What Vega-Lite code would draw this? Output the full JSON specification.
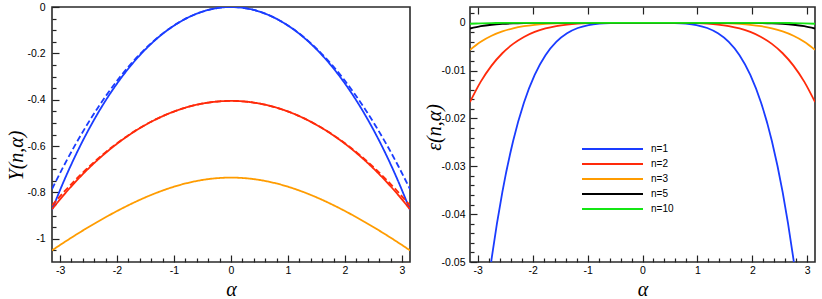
{
"$schema": "https://vega.github.io/schema/vega-lite/v6.json",
"padding": {"left": 5, "top": 1, "right": 7, "bottom": 0},
"datasets": {
"left": [
{"a":-3.1416,"v":-0.87553,"n":"n=1","s":"solid"},{"a":-2.9452,"v":-0.7577,"n":"n=1","s":"solid"},{"a":-2.7489,"v":-0.65074,"n":"n=1","s":"solid"},{"a":-2.5525,"v":-0.55389,"n":"n=1","s":"solid"},{"a":-2.3562,"v":-0.46649,"n":"n=1","s":"solid"},{"a":-2.1598,"v":-0.38791,"n":"n=1","s":"solid"},{"a":-1.9635,"v":-0.31767,"n":"n=1","s":"solid"},{"a":-1.7671,"v":-0.25527,"n":"n=1","s":"solid"},{"a":-1.5708,"v":-0.20033,"n":"n=1","s":"solid"},{"a":-1.3744,"v":-0.15251,"n":"n=1","s":"solid"},{"a":-1.1781,"v":-0.11154,"n":"n=1","s":"solid"},{"a":-0.9817,"v":-0.07718,"n":"n=1","s":"solid"},{"a":-0.7854,"v":-0.04927,"n":"n=1","s":"solid"},{"a":-0.589,"v":-0.02766,"n":"n=1","s":"solid"},{"a":-0.3927,"v":-0.01228,"n":"n=1","s":"solid"},{"a":-0.1963,"v":-0.00307,"n":"n=1","s":"solid"},{"a":0,"v":0,"n":"n=1","s":"solid"},{"a":0.1963,"v":-0.00307,"n":"n=1","s":"solid"},{"a":0.3927,"v":-0.01228,"n":"n=1","s":"solid"},{"a":0.589,"v":-0.02766,"n":"n=1","s":"solid"},{"a":0.7854,"v":-0.04927,"n":"n=1","s":"solid"},{"a":0.9817,"v":-0.07718,"n":"n=1","s":"solid"},{"a":1.1781,"v":-0.11154,"n":"n=1","s":"solid"},{"a":1.3744,"v":-0.15251,"n":"n=1","s":"solid"},{"a":1.5708,"v":-0.20033,"n":"n=1","s":"solid"},{"a":1.7671,"v":-0.25527,"n":"n=1","s":"solid"},{"a":1.9635,"v":-0.31767,"n":"n=1","s":"solid"},{"a":2.1598,"v":-0.38791,"n":"n=1","s":"solid"},{"a":2.3562,"v":-0.46649,"n":"n=1","s":"solid"},{"a":2.5525,"v":-0.55389,"n":"n=1","s":"solid"},{"a":2.7489,"v":-0.65074,"n":"n=1","s":"solid"},{"a":2.9452,"v":-0.7577,"n":"n=1","s":"solid"},{"a":3.1416,"v":-0.87553,"n":"n=1","s":"solid"},
{"a":-3.1416,"v":-0.7854,"n":"n=1","s":"dashed"},{"a":-2.9452,"v":-0.69029,"n":"n=1","s":"dashed"},{"a":-2.7489,"v":-0.60132,"n":"n=1","s":"dashed"},{"a":-2.5525,"v":-0.51849,"n":"n=1","s":"dashed"},{"a":-2.3562,"v":-0.44179,"n":"n=1","s":"dashed"},{"a":-2.1598,"v":-0.37122,"n":"n=1","s":"dashed"},{"a":-1.9635,"v":-0.3068,"n":"n=1","s":"dashed"},{"a":-1.7671,"v":-0.2485,"n":"n=1","s":"dashed"},{"a":-1.5708,"v":-0.19635,"n":"n=1","s":"dashed"},{"a":-1.3744,"v":-0.15033,"n":"n=1","s":"dashed"},{"a":-1.1781,"v":-0.11045,"n":"n=1","s":"dashed"},{"a":-0.9817,"v":-0.0767,"n":"n=1","s":"dashed"},{"a":-0.7854,"v":-0.04909,"n":"n=1","s":"dashed"},{"a":-0.589,"v":-0.02761,"n":"n=1","s":"dashed"},{"a":-0.3927,"v":-0.01227,"n":"n=1","s":"dashed"},{"a":-0.1963,"v":-0.00307,"n":"n=1","s":"dashed"},{"a":0,"v":0,"n":"n=1","s":"dashed"},{"a":0.1963,"v":-0.00307,"n":"n=1","s":"dashed"},{"a":0.3927,"v":-0.01227,"n":"n=1","s":"dashed"},{"a":0.589,"v":-0.02761,"n":"n=1","s":"dashed"},{"a":0.7854,"v":-0.04909,"n":"n=1","s":"dashed"},{"a":0.9817,"v":-0.0767,"n":"n=1","s":"dashed"},{"a":1.1781,"v":-0.11045,"n":"n=1","s":"dashed"},{"a":1.3744,"v":-0.15033,"n":"n=1","s":"dashed"},{"a":1.5708,"v":-0.19635,"n":"n=1","s":"dashed"},{"a":1.7671,"v":-0.2485,"n":"n=1","s":"dashed"},{"a":1.9635,"v":-0.3068,"n":"n=1","s":"dashed"},{"a":2.1598,"v":-0.37122,"n":"n=1","s":"dashed"},{"a":2.3562,"v":-0.44179,"n":"n=1","s":"dashed"},{"a":2.5525,"v":-0.51849,"n":"n=1","s":"dashed"},{"a":2.7489,"v":-0.60132,"n":"n=1","s":"dashed"},{"a":2.9452,"v":-0.69029,"n":"n=1","s":"dashed"},{"a":3.1416,"v":-0.7854,"n":"n=1","s":"dashed"},
{"a":-3.1416,"v":-0.87259,"n":"n=2","s":"solid"},{"a":-2.9452,"v":-0.81372,"n":"n=2","s":"solid"},{"a":-2.7489,"v":-0.75929,"n":"n=2","s":"solid"},{"a":-2.5525,"v":-0.70913,"n":"n=2","s":"solid"},{"a":-2.3562,"v":-0.66312,"n":"n=2","s":"solid"},{"a":-2.1598,"v":-0.62114,"n":"n=2","s":"solid"},{"a":-1.9635,"v":-0.5831,"n":"n=2","s":"solid"},{"a":-1.7671,"v":-0.54888,"n":"n=2","s":"solid"},{"a":-1.5708,"v":-0.51844,"n":"n=2","s":"solid"},{"a":-1.3744,"v":-0.4917,"n":"n=2","s":"solid"},{"a":-1.1781,"v":-0.46861,"n":"n=2","s":"solid"},{"a":-0.9817,"v":-0.44913,"n":"n=2","s":"solid"},{"a":-0.7854,"v":-0.43322,"n":"n=2","s":"solid"},{"a":-0.589,"v":-0.42087,"n":"n=2","s":"solid"},{"a":-0.3927,"v":-0.41205,"n":"n=2","s":"solid"},{"a":-0.1963,"v":-0.40676,"n":"n=2","s":"solid"},{"a":0,"v":-0.405,"n":"n=2","s":"solid"},{"a":0.1963,"v":-0.40676,"n":"n=2","s":"solid"},{"a":0.3927,"v":-0.41205,"n":"n=2","s":"solid"},{"a":0.589,"v":-0.42087,"n":"n=2","s":"solid"},{"a":0.7854,"v":-0.43322,"n":"n=2","s":"solid"},{"a":0.9817,"v":-0.44913,"n":"n=2","s":"solid"},{"a":1.1781,"v":-0.46861,"n":"n=2","s":"solid"},{"a":1.3744,"v":-0.4917,"n":"n=2","s":"solid"},{"a":1.5708,"v":-0.51844,"n":"n=2","s":"solid"},{"a":1.7671,"v":-0.54888,"n":"n=2","s":"solid"},{"a":1.9635,"v":-0.5831,"n":"n=2","s":"solid"},{"a":2.1598,"v":-0.62114,"n":"n=2","s":"solid"},{"a":2.3562,"v":-0.66312,"n":"n=2","s":"solid"},{"a":2.5525,"v":-0.70913,"n":"n=2","s":"solid"},{"a":2.7489,"v":-0.75929,"n":"n=2","s":"solid"},{"a":2.9452,"v":-0.81372,"n":"n=2","s":"solid"},{"a":3.1416,"v":-0.87259,"n":"n=2","s":"solid"},
{"a":-3.1416,"v":-0.85604,"n":"n=2","s":"dashed"},{"a":-2.9452,"v":-0.80142,"n":"n=2","s":"dashed"},{"a":-2.7489,"v":-0.75033,"n":"n=2","s":"dashed"},{"a":-2.5525,"v":-0.70276,"n":"n=2","s":"dashed"},{"a":-2.3562,"v":-0.65871,"n":"n=2","s":"dashed"},{"a":-2.1598,"v":-0.61819,"n":"n=2","s":"dashed"},{"a":-1.9635,"v":-0.58119,"n":"n=2","s":"dashed"},{"a":-1.7671,"v":-0.54771,"n":"n=2","s":"dashed"},{"a":-1.5708,"v":-0.51776,"n":"n=2","s":"dashed"},{"a":-1.3744,"v":-0.49133,"n":"n=2","s":"dashed"},{"a":-1.1781,"v":-0.46843,"n":"n=2","s":"dashed"},{"a":-0.9817,"v":-0.44905,"n":"n=2","s":"dashed"},{"a":-0.7854,"v":-0.43319,"n":"n=2","s":"dashed"},{"a":-0.589,"v":-0.42086,"n":"n=2","s":"dashed"},{"a":-0.3927,"v":-0.41205,"n":"n=2","s":"dashed"},{"a":-0.1963,"v":-0.40676,"n":"n=2","s":"dashed"},{"a":0,"v":-0.405,"n":"n=2","s":"dashed"},{"a":0.1963,"v":-0.40676,"n":"n=2","s":"dashed"},{"a":0.3927,"v":-0.41205,"n":"n=2","s":"dashed"},{"a":0.589,"v":-0.42086,"n":"n=2","s":"dashed"},{"a":0.7854,"v":-0.43319,"n":"n=2","s":"dashed"},{"a":0.9817,"v":-0.44905,"n":"n=2","s":"dashed"},{"a":1.1781,"v":-0.46843,"n":"n=2","s":"dashed"},{"a":1.3744,"v":-0.49133,"n":"n=2","s":"dashed"},{"a":1.5708,"v":-0.51776,"n":"n=2","s":"dashed"},{"a":1.7671,"v":-0.54771,"n":"n=2","s":"dashed"},{"a":1.9635,"v":-0.58119,"n":"n=2","s":"dashed"},{"a":2.1598,"v":-0.61819,"n":"n=2","s":"dashed"},{"a":2.3562,"v":-0.65871,"n":"n=2","s":"dashed"},{"a":2.5525,"v":-0.70276,"n":"n=2","s":"dashed"},{"a":2.7489,"v":-0.75033,"n":"n=2","s":"dashed"},{"a":2.9452,"v":-0.80142,"n":"n=2","s":"dashed"},{"a":3.1416,"v":-0.85604,"n":"n=2","s":"dashed"},
{"a":-3.1416,"v":-1.05,"n":"n=3","s":"solid"},{"a":-2.9452,"v":-1.01786,"n":"n=3","s":"solid"},{"a":-2.7489,"v":-0.98691,"n":"n=3","s":"solid"},{"a":-2.5525,"v":-0.95713,"n":"n=3","s":"solid"},{"a":-2.3562,"v":-0.92856,"n":"n=3","s":"solid"},{"a":-2.1598,"v":-0.90129,"n":"n=3","s":"solid"},{"a":-1.9635,"v":-0.87543,"n":"n=3","s":"solid"},{"a":-1.7671,"v":-0.85115,"n":"n=3","s":"solid"},{"a":-1.5708,"v":-0.82863,"n":"n=3","s":"solid"},{"a":-1.3744,"v":-0.8081,"n":"n=3","s":"solid"},{"a":-1.1781,"v":-0.78976,"n":"n=3","s":"solid"},{"a":-0.9817,"v":-0.77381,"n":"n=3","s":"solid"},{"a":-0.7854,"v":-0.76045,"n":"n=3","s":"solid"},{"a":-0.589,"v":-0.74987,"n":"n=3","s":"solid"},{"a":-0.3927,"v":-0.7422,"n":"n=3","s":"solid"},{"a":-0.1963,"v":-0.73756,"n":"n=3","s":"solid"},{"a":0,"v":-0.736,"n":"n=3","s":"solid"},{"a":0.1963,"v":-0.73756,"n":"n=3","s":"solid"},{"a":0.3927,"v":-0.7422,"n":"n=3","s":"solid"},{"a":0.589,"v":-0.74987,"n":"n=3","s":"solid"},{"a":0.7854,"v":-0.76045,"n":"n=3","s":"solid"},{"a":0.9817,"v":-0.77381,"n":"n=3","s":"solid"},{"a":1.1781,"v":-0.78976,"n":"n=3","s":"solid"},{"a":1.3744,"v":-0.8081,"n":"n=3","s":"solid"},{"a":1.5708,"v":-0.82863,"n":"n=3","s":"solid"},{"a":1.7671,"v":-0.85115,"n":"n=3","s":"solid"},{"a":1.9635,"v":-0.87543,"n":"n=3","s":"solid"},{"a":2.1598,"v":-0.90129,"n":"n=3","s":"solid"},{"a":2.3562,"v":-0.92856,"n":"n=3","s":"solid"},{"a":2.5525,"v":-0.95713,"n":"n=3","s":"solid"},{"a":2.7489,"v":-0.98691,"n":"n=3","s":"solid"},{"a":2.9452,"v":-1.01786,"n":"n=3","s":"solid"},{"a":3.1416,"v":-1.05,"n":"n=3","s":"solid"}
],
"right": [
{"a":-3.1416,"v":-0.090125,"n":"n=1"},{"a":-2.9452,"v":-0.067409,"n":"n=1"},{"a":-2.7489,"v":-0.049418,"n":"n=1"},{"a":-2.5525,"v":-0.035404,"n":"n=1"},{"a":-2.3562,"v":-0.024696,"n":"n=1"},{"a":-2.1598,"v":-0.016694,"n":"n=1"},{"a":-1.9635,"v":-0.010872,"n":"n=1"},{"a":-1.7671,"v":-0.006767,"n":"n=1"},{"a":-1.5708,"v":-0.003983,"n":"n=1"},{"a":-1.3744,"v":-0.002184,"n":"n=1"},{"a":-1.1781,"v":-0.001091,"n":"n=1"},{"a":-0.9817,"v":-0.00048,"n":"n=1"},{"a":-0.7854,"v":-0.000176,"n":"n=1"},{"a":-0.589,"v":-0.000048,"n":"n=1"},{"a":-0.3927,"v":-0.000008,"n":"n=1"},{"a":-0.1963,"v":0,"n":"n=1"},{"a":0,"v":0,"n":"n=1"},{"a":0.1963,"v":0,"n":"n=1"},{"a":0.3927,"v":-0.000008,"n":"n=1"},{"a":0.589,"v":-0.000048,"n":"n=1"},{"a":0.7854,"v":-0.000176,"n":"n=1"},{"a":0.9817,"v":-0.00048,"n":"n=1"},{"a":1.1781,"v":-0.001091,"n":"n=1"},{"a":1.3744,"v":-0.002184,"n":"n=1"},{"a":1.5708,"v":-0.003983,"n":"n=1"},{"a":1.7671,"v":-0.006767,"n":"n=1"},{"a":1.9635,"v":-0.010872,"n":"n=1"},{"a":2.1598,"v":-0.016694,"n":"n=1"},{"a":2.3562,"v":-0.024696,"n":"n=1"},{"a":2.5525,"v":-0.035404,"n":"n=1"},{"a":2.7489,"v":-0.049418,"n":"n=1"},{"a":2.9452,"v":-0.067409,"n":"n=1"},{"a":3.1416,"v":-0.090125,"n":"n=1"},
{"a":-3.1416,"v":-0.016553,"n":"n=2"},{"a":-2.9452,"v":-0.012301,"n":"n=2"},{"a":-2.7489,"v":-0.008955,"n":"n=2"},{"a":-2.5525,"v":-0.006368,"n":"n=2"},{"a":-2.3562,"v":-0.004407,"n":"n=2"},{"a":-2.1598,"v":-0.002953,"n":"n=2"},{"a":-1.9635,"v":-0.001905,"n":"n=2"},{"a":-1.7671,"v":-0.001173,"n":"n=2"},{"a":-1.5708,"v":-0.000683,"n":"n=2"},{"a":-1.3744,"v":-0.000369,"n":"n=2"},{"a":-1.1781,"v":-0.000182,"n":"n=2"},{"a":-0.9817,"v":-0.000079,"n":"n=2"},{"a":-0.7854,"v":-0.000028,"n":"n=2"},{"a":-0.589,"v":-0.000007,"n":"n=2"},{"a":-0.3927,"v":-0.000001,"n":"n=2"},{"a":-0.1963,"v":0,"n":"n=2"},{"a":0,"v":0,"n":"n=2"},{"a":0.1963,"v":0,"n":"n=2"},{"a":0.3927,"v":-0.000001,"n":"n=2"},{"a":0.589,"v":-0.000007,"n":"n=2"},{"a":0.7854,"v":-0.000028,"n":"n=2"},{"a":0.9817,"v":-0.000079,"n":"n=2"},{"a":1.1781,"v":-0.000182,"n":"n=2"},{"a":1.3744,"v":-0.000369,"n":"n=2"},{"a":1.5708,"v":-0.000683,"n":"n=2"},{"a":1.7671,"v":-0.001173,"n":"n=2"},{"a":1.9635,"v":-0.001905,"n":"n=2"},{"a":2.1598,"v":-0.002953,"n":"n=2"},{"a":2.3562,"v":-0.004407,"n":"n=2"},{"a":2.5525,"v":-0.006368,"n":"n=2"},{"a":2.7489,"v":-0.008955,"n":"n=2"},{"a":2.9452,"v":-0.012301,"n":"n=2"},{"a":3.1416,"v":-0.016553,"n":"n=2"},
{"a":-3.1416,"v":-0.005641,"n":"n=3"},{"a":-2.9452,"v":-0.003956,"n":"n=3"},{"a":-2.7489,"v":-0.002707,"n":"n=3"},{"a":-2.5525,"v":-0.0018,"n":"n=3"},{"a":-2.3562,"v":-0.001159,"n":"n=3"},{"a":-2.1598,"v":-0.000718,"n":"n=3"},{"a":-1.9635,"v":-0.000425,"n":"n=3"},{"a":-1.7671,"v":-0.000238,"n":"n=3"},{"a":-1.5708,"v":-0.000125,"n":"n=3"},{"a":-1.3744,"v":-0.00006,"n":"n=3"},{"a":-1.1781,"v":-0.000026,"n":"n=3"},{"a":-0.9817,"v":-0.000009,"n":"n=3"},{"a":-0.7854,"v":-0.000003,"n":"n=3"},{"a":-0.589,"v":-0.000001,"n":"n=3"},{"a":-0.3927,"v":0,"n":"n=3"},{"a":-0.1963,"v":0,"n":"n=3"},{"a":0,"v":0,"n":"n=3"},{"a":0.1963,"v":0,"n":"n=3"},{"a":0.3927,"v":0,"n":"n=3"},{"a":0.589,"v":-0.000001,"n":"n=3"},{"a":0.7854,"v":-0.000003,"n":"n=3"},{"a":0.9817,"v":-0.000009,"n":"n=3"},{"a":1.1781,"v":-0.000026,"n":"n=3"},{"a":1.3744,"v":-0.00006,"n":"n=3"},{"a":1.5708,"v":-0.000125,"n":"n=3"},{"a":1.7671,"v":-0.000238,"n":"n=3"},{"a":1.9635,"v":-0.000425,"n":"n=3"},{"a":2.1598,"v":-0.000718,"n":"n=3"},{"a":2.3562,"v":-0.001159,"n":"n=3"},{"a":2.5525,"v":-0.0018,"n":"n=3"},{"a":2.7489,"v":-0.002707,"n":"n=3"},{"a":2.9452,"v":-0.003956,"n":"n=3"},{"a":3.1416,"v":-0.005641,"n":"n=3"},
{"a":-3.1416,"v":-0.0012,"n":"n=5"},{"a":-2.9452,"v":-0.000716,"n":"n=5"},{"a":-2.7489,"v":-0.000412,"n":"n=5"},{"a":-2.5525,"v":-0.000228,"n":"n=5"},{"a":-2.3562,"v":-0.00012,"n":"n=5"},{"a":-2.1598,"v":-0.00006,"n":"n=5"},{"a":-1.9635,"v":-0.000028,"n":"n=5"},{"a":-1.7671,"v":-0.000012,"n":"n=5"},{"a":-1.5708,"v":-0.000005,"n":"n=5"},{"a":-1.3744,"v":-0.000002,"n":"n=5"},{"a":-1.1781,"v":0,"n":"n=5"},{"a":-0.9817,"v":0,"n":"n=5"},{"a":-0.7854,"v":0,"n":"n=5"},{"a":-0.589,"v":0,"n":"n=5"},{"a":-0.3927,"v":0,"n":"n=5"},{"a":-0.1963,"v":0,"n":"n=5"},{"a":0,"v":0,"n":"n=5"},{"a":0.1963,"v":0,"n":"n=5"},{"a":0.3927,"v":0,"n":"n=5"},{"a":0.589,"v":0,"n":"n=5"},{"a":0.7854,"v":0,"n":"n=5"},{"a":0.9817,"v":0,"n":"n=5"},{"a":1.1781,"v":0,"n":"n=5"},{"a":1.3744,"v":-0.000002,"n":"n=5"},{"a":1.5708,"v":-0.000005,"n":"n=5"},{"a":1.7671,"v":-0.000012,"n":"n=5"},{"a":1.9635,"v":-0.000028,"n":"n=5"},{"a":2.1598,"v":-0.00006,"n":"n=5"},{"a":2.3562,"v":-0.00012,"n":"n=5"},{"a":2.5525,"v":-0.000228,"n":"n=5"},{"a":2.7489,"v":-0.000412,"n":"n=5"},{"a":2.9452,"v":-0.000716,"n":"n=5"},{"a":3.1416,"v":-0.0012,"n":"n=5"},
{"a":-3.1416,"v":-0.0002,"n":"n=10"},{"a":-2.9452,"v":-0.000105,"n":"n=10"},{"a":-2.7489,"v":-0.000053,"n":"n=10"},{"a":-2.5525,"v":-0.000025,"n":"n=10"},{"a":-2.3562,"v":-0.000011,"n":"n=10"},{"a":-2.1598,"v":-0.000005,"n":"n=10"},{"a":-1.9635,"v":-0.000002,"n":"n=10"},{"a":-1.7671,"v":-0.000001,"n":"n=10"},{"a":-1.5708,"v":0,"n":"n=10"},{"a":-1.3744,"v":0,"n":"n=10"},{"a":-1.1781,"v":0,"n":"n=10"},{"a":-0.9817,"v":0,"n":"n=10"},{"a":-0.7854,"v":0,"n":"n=10"},{"a":-0.589,"v":0,"n":"n=10"},{"a":-0.3927,"v":0,"n":"n=10"},{"a":-0.1963,"v":0,"n":"n=10"},{"a":0,"v":0,"n":"n=10"},{"a":0.1963,"v":0,"n":"n=10"},{"a":0.3927,"v":0,"n":"n=10"},{"a":0.589,"v":0,"n":"n=10"},{"a":0.7854,"v":0,"n":"n=10"},{"a":0.9817,"v":0,"n":"n=10"},{"a":1.1781,"v":0,"n":"n=10"},{"a":1.3744,"v":0,"n":"n=10"},{"a":1.5708,"v":0,"n":"n=10"},{"a":1.7671,"v":-0.000001,"n":"n=10"},{"a":1.9635,"v":-0.000002,"n":"n=10"},{"a":2.1598,"v":-0.000005,"n":"n=10"},{"a":2.3562,"v":-0.000011,"n":"n=10"},{"a":2.5525,"v":-0.000025,"n":"n=10"},{"a":2.7489,"v":-0.000053,"n":"n=10"},{"a":2.9452,"v":-0.000105,"n":"n=10"},{"a":3.1416,"v":-0.0002,"n":"n=10"}
]
},
"bounds": "flush",
"spacing": 60,
"hconcat": [
{
"width": 358, "height": 255,
"data": {"name": "left"},
"layer": [
{"mark": {"type": "line", "interpolate": "monotone", "clip": true, "strokeWidth": 1.8},
 "encoding": {
  "x": {"field": "a", "type": "quantitative", "scale": {"domain": [-3.1416, 3.1416], "nice": false, "zero": false},
        "axis": {"orient": "bottom", "values": [-3,-2,-1,0,1,2,3], "tickSize": -7, "labelPadding": 10, "title": "α", "titleY": 17, "titleBaseline": "top",
                 "labelExpr": "replace(format(datum.value, '~g'), '\u2212', '-')"}},
  "y": {"field": "v", "type": "quantitative", "scale": {"domain": [-1.1, 0], "nice": false, "zero": false},
        "axis": {"orient": "left", "values": [0,-0.2,-0.4,-0.6,-0.8,-1], "tickSize": -7, "labelPadding": 14, "title": "Υ(n,α)", "titleX": -26, "titleY": 148,
                 "labelExpr": "replace(format(datum.value, '~g'), '\u2212', '-')"}},
  "color": {"field": "n", "type": "nominal", "scale": {"domain": ["n=1","n=2","n=3"], "range": ["#1a3cff","#ff2a0a","#ff9c00"]}, "legend": null},
  "strokeDash": {"field": "s", "type": "nominal", "scale": {"domain": ["solid","dashed"], "range": [[1,0],[6,3]]}, "legend": null}
 }},
{"mark": {"type": "line", "strokeOpacity": 0},
 "encoding": {
  "x": {"field": "a", "type": "quantitative", "axis": {"orient": "bottom", "values": [-2.8,-2.6,-2.4,-2.2,-1.8,-1.6,-1.4,-1.2,-0.8,-0.6,-0.4,-0.2,0.2,0.4,0.6,0.8,1.2,1.4,1.6,1.8,2.2,2.4,2.6,2.8], "tickSize": -4, "labels": false, "title": null}},
  "y": {"field": "v", "type": "quantitative", "axis": {"orient": "left", "values": [-0.05,-0.1,-0.15,-0.25,-0.3,-0.35,-0.45,-0.5,-0.55,-0.65,-0.7,-0.75,-0.85,-0.9,-0.95,-1.05], "tickSize": -4, "labels": false, "title": null}}
 }}
],
"resolve": {"axis": {"x": "independent", "y": "independent"}}
},
{
"width": 345, "height": 255,
"data": {"name": "right"},
"layer": [
{"mark": {"type": "line", "interpolate": "monotone", "clip": true, "strokeWidth": 1.8},
 "encoding": {
  "x": {"field": "a", "type": "quantitative", "scale": {"domain": [-3.1416, 3.1416], "nice": false, "zero": false},
        "axis": {"orient": "bottom", "values": [-3,-2,-1,0,1,2,3], "tickSize": -7, "labelPadding": 10, "title": "α", "titleY": 17, "titleBaseline": "top",
                 "labelExpr": "replace(format(datum.value, '~g'), '\u2212', '-')"}},
  "y": {"field": "v", "type": "quantitative", "scale": {"domain": [-0.05, 0.0033], "nice": false, "zero": false},
        "axis": {"orient": "left", "values": [0,-0.01,-0.02,-0.03,-0.04,-0.05], "tickSize": -7, "labelPadding": 12, "title": "ε(n,α)", "titleX": -26, "titleY": 120,
                 "labelExpr": "replace(format(datum.value, '~g'), '\u2212', '-')"}},
  "color": {"field": "n", "type": "nominal", "scale": {"domain": ["n=1","n=2","n=3","n=5","n=10"], "range": ["#1a3cff","#ff2a0a","#ff9c00","#000000","#14e614"]},
            "legend": {"orient": "none", "legendX": 111, "legendY": 135, "title": null, "symbolType": "stroke", "symbolSize": 3721, "symbolStrokeWidth": 1.8, "labelFont": "Liberation Sans", "labelFontSize": 10, "labelOffset": 7, "padding": 0, "rowPadding": 3,
                       "encode": {"symbols": {"update": {"y": {"value": 7}}}, "labels": {"update": {"y": {"value": 7}}}}}}
 }},
{"mark": {"type": "line", "strokeOpacity": 0},
 "encoding": {
  "x": {"field": "a", "type": "quantitative", "axis": {"orient": "bottom", "values": [-2.8,-2.6,-2.4,-2.2,-1.8,-1.6,-1.4,-1.2,-0.8,-0.6,-0.4,-0.2,0.2,0.4,0.6,0.8,1.2,1.4,1.6,1.8,2.2,2.4,2.6,2.8], "tickSize": -4, "labels": false, "title": null}},
  "y": {"field": "v", "type": "quantitative", "axis": {"orient": "left", "values": [0.002,-0.002,-0.004,-0.006,-0.008,-0.012,-0.014,-0.016,-0.018,-0.022,-0.024,-0.026,-0.028,-0.032,-0.034,-0.036,-0.038,-0.042,-0.044,-0.046,-0.048], "tickSize": -4, "labels": false, "title": null}}
 }},
{"mark": {"type": "line", "strokeOpacity": 0},
 "encoding": {
  "x": {"field": "a", "type": "quantitative", "axis": {"orient": "top", "values": [-3,-2,-1,0,1,2,3], "tickSize": -7, "labels": false, "title": null}},
  "y": {"field": "v", "type": "quantitative", "axis": null}
 }}
],
"resolve": {"axis": {"x": "independent", "y": "independent"}}
}
],
"resolve": {"scale": {"color": "independent", "strokeDash": "independent"}, "legend": {"color": "independent"}},
"config": {
 "background": "white",
 "view": {"stroke": "#2a2a2a", "strokeWidth": 1.6},
 "axis": {"domain": false, "grid": false, "tickColor": "#222222", "tickWidth": 1.2, "labelFont": "Liberation Sans", "labelFontSize": 10.5, "labelColor": "#000000",
          "titleFont": "Liberation Serif", "titleFontStyle": "italic", "titleFontWeight": "normal", "titleFontSize": 20, "titleColor": "#000000"},
 "legend": {"labelColor": "#000000"}
}
}
